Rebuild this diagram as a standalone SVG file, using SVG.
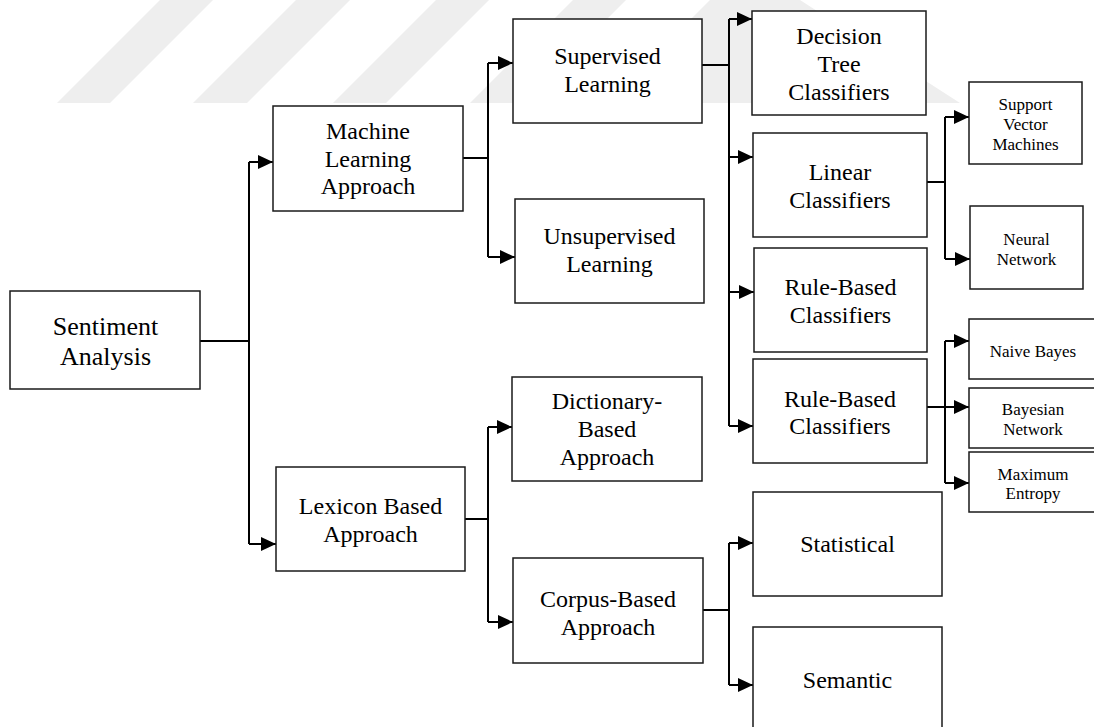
<svg xmlns="http://www.w3.org/2000/svg" width="1094" height="727" viewBox="0 0 1094 727">
<style>
.wm{fill:#eeeeee;stroke:none}
.box{fill:#fff;stroke:#1a1a1a;stroke-width:1.5}
.t{font-family:"Liberation Serif","Times New Roman",serif;font-size:24px;fill:#000;text-anchor:middle}
.l{font-family:"Liberation Serif","Times New Roman",serif;font-size:26px;fill:#000;text-anchor:middle}
.s{font-family:"Liberation Serif","Times New Roman",serif;font-size:17px;fill:#000;text-anchor:middle}
.c{fill:none;stroke:#000;stroke-width:2}
.a{fill:none;stroke:#000;stroke-width:2;marker-end:url(#ah)}
</style>
<defs>
<marker id="ah" markerUnits="userSpaceOnUse" markerWidth="15" markerHeight="14" refX="15" refY="7" orient="auto">
<path d="M0,0 L15,7 L0,14 Z" fill="#000"/>
</marker>
</defs>
<rect width="1094" height="727" fill="#fff"/>
<g id="watermark">
<polygon class="wm" points="57,103 110,103 213,0 160,0"/>
<polygon class="wm" points="193,103 247,103 350,0 296,0"/>
<polygon class="wm" points="333,103 386,103 489,0 436,0"/>
<polygon class="wm" points="470,103 523,103 626,0 573,0"/>
<polygon class="wm" points="607,103 960,103 800,0 710,0"/>
</g>
<g id="connectors">
<path class="c" d="M200,341 H249 M249,162 V544"/>
<path class="a" d="M249,162 H273"/>
<path class="a" d="M249,544 H276"/>
<path class="c" d="M463,158 H488 M488,63 V257"/>
<path class="a" d="M488,63 H513"/>
<path class="a" d="M488,257 H515"/>
<path class="c" d="M465,519 H488 M488,427 V622"/>
<path class="a" d="M488,427 H512"/>
<path class="a" d="M488,622 H513"/>
<path class="c" d="M702,65 H729 M729,19 V426"/>
<path class="a" d="M729,19 H752"/>
<path class="a" d="M729,157 H753"/>
<path class="a" d="M729,292 H754"/>
<path class="a" d="M729,426 H753"/>
<path class="c" d="M927,182 H945 M945,117 V259"/>
<path class="a" d="M945,117 H969"/>
<path class="a" d="M945,259 H970"/>
<path class="c" d="M927,407 H945 M945,341 V483"/>
<path class="a" d="M945,341 H969"/>
<path class="a" d="M945,407 H969"/>
<path class="a" d="M945,483 H969"/>
<path class="c" d="M703,610 H729 M729,543 V685"/>
<path class="a" d="M729,543 H753"/>
<path class="a" d="M729,685 H753"/>
</g>
<g id="sentiment-analysis">
<rect class="box" x="10" y="291" width="190" height="98"/>
<text class="l" x="105.5" y="335">Sentiment</text>
<text class="l" x="105.5" y="365">Analysis</text>
</g>
<g id="machine-learning">
<rect class="box" x="273" y="106" width="190" height="105"/>
<text class="t" x="368" y="139">Machine</text>
<text class="t" x="368" y="166.5">Learning</text>
<text class="t" x="368" y="194">Approach</text>
</g>
<g id="lexicon-based">
<rect class="box" x="276" y="467" width="189" height="104"/>
<text class="t" x="370.5" y="514">Lexicon Based</text>
<text class="t" x="370.5" y="542">Approach</text>
</g>
<g id="supervised">
<rect class="box" x="513" y="19" width="189" height="104"/>
<text class="t" x="607.5" y="64">Supervised</text>
<text class="t" x="607.5" y="92">Learning</text>
</g>
<g id="unsupervised">
<rect class="box" x="515" y="199" width="189" height="104"/>
<text class="t" x="609.5" y="244">Unsupervised</text>
<text class="t" x="609.5" y="272">Learning</text>
</g>
<g id="dictionary-based">
<rect class="box" x="512" y="377" width="190" height="104"/>
<text class="t" x="607" y="409">Dictionary-</text>
<text class="t" x="607" y="437">Based</text>
<text class="t" x="607" y="465">Approach</text>
</g>
<g id="corpus-based">
<rect class="box" x="513" y="558" width="190" height="105"/>
<text class="t" x="608" y="607">Corpus-Based</text>
<text class="t" x="608" y="635">Approach</text>
</g>
<g id="decision-tree">
<rect class="box" x="752" y="11" width="174" height="104"/>
<text class="t" x="839" y="44">Decision</text>
<text class="t" x="839" y="72">Tree</text>
<text class="t" x="839" y="100">Classifiers</text>
</g>
<g id="linear">
<rect class="box" x="753" y="133" width="174" height="104"/>
<text class="t" x="840" y="180">Linear</text>
<text class="t" x="840" y="208">Classifiers</text>
</g>
<g id="rule-based-1">
<rect class="box" x="754" y="248" width="173" height="104"/>
<text class="t" x="840.5" y="295">Rule-Based</text>
<text class="t" x="840.5" y="323">Classifiers</text>
</g>
<g id="rule-based-2">
<rect class="box" x="753" y="359" width="174" height="104"/>
<text class="t" x="840" y="407">Rule-Based</text>
<text class="t" x="840" y="434">Classifiers</text>
</g>
<g id="statistical">
<rect class="box" x="753" y="492" width="189" height="104"/>
<text class="t" x="847.5" y="552">Statistical</text>
</g>
<g id="semantic">
<rect class="box" x="753" y="627" width="189" height="104"/>
<text class="t" x="847.5" y="688">Semantic</text>
</g>
<g id="svm">
<rect class="box" x="969" y="82" width="113" height="82"/>
<text class="s" x="1025.5" y="110">Support</text>
<text class="s" x="1025.5" y="130">Vector</text>
<text class="s" x="1025.5" y="150">Machines</text>
</g>
<g id="neural-network">
<rect class="box" x="970" y="206" width="113" height="83"/>
<text class="s" x="1026.5" y="245">Neural</text>
<text class="s" x="1026.5" y="265">Network</text>
</g>
<g id="naive-bayes">
<rect class="box" x="969" y="319" width="130" height="60"/>
<text class="s" x="1033" y="357">Naive Bayes</text>
</g>
<g id="bayesian-network">
<rect class="box" x="969" y="388" width="130" height="60"/>
<text class="s" x="1033" y="415">Bayesian</text>
<text class="s" x="1033" y="435">Network</text>
</g>
<g id="maximum-entropy">
<rect class="box" x="969" y="452" width="130" height="60"/>
<text class="s" x="1033" y="480">Maximum</text>
<text class="s" x="1033" y="499">Entropy</text>
</g>
</svg>
